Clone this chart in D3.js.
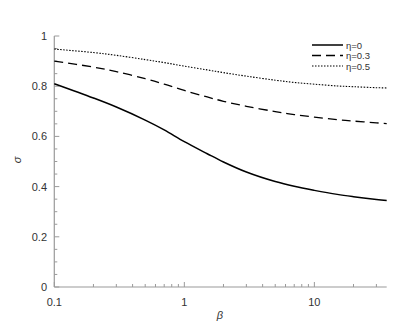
<!DOCTYPE html>
<html>
<head>
<meta charset="utf-8">
<script src="https://cdn.jsdelivr.net/npm/d3@7"></script>
<style>
  body { margin: 0; background: #fff; }
  svg { display: block; font-family: "Liberation Sans", Arial, sans-serif; }
</style>
</head>
<body>
<div id="chart"></div>
<script>
const betas = [0.1, 0.2, 0.3, 0.5, 0.7, 1, 1.5, 2, 3, 5, 7, 10, 15, 20, 30, 36];
// sigma for each eta
const eta0  = [0.81, 0.753, 0.717, 0.665, 0.626, 0.579, 0.531, 0.498, 0.458, 0.42, 0.401, 0.385, 0.369, 0.36, 0.349, 0.345];
const eta03 = [0.90, 0.876, 0.858, 0.830, 0.808, 0.783, 0.757, 0.740, 0.720, 0.699, 0.687, 0.677, 0.667, 0.661, 0.654, 0.651];
const eta05 = [0.948, 0.934, 0.923, 0.906, 0.894, 0.880, 0.865, 0.854, 0.840, 0.824, 0.815, 0.808, 0.801, 0.798, 0.794, 0.793];
const seriesNames = ["\u03b7=0", "\u03b7=0.3", "\u03b7=0.5"];
const xMajor = [0.1, 1, 10];
const yMajor = [0, 0.2, 0.4, 0.6, 0.8, 1];

const W = 415, H = 331;
const x = d3.scaleLog().domain([0.1, 36]).range([54.3, 386.7]);
const y = d3.scaleLinear().domain([0, 1]).range([287, 36]);

const svg = d3.select("#chart").append("svg")
    .attr("width", W).attr("height", H);

const axisColor = "#9a9a9a";

// minor x ticks
const xMinor = [];
[0.1, 1, 10].forEach(d => { for (let k = 2; k <= 9; k++) if (d * k <= 36) xMinor.push(d * k); });
// minor y ticks
const yMinor = d3.range(0, 1.0001, 0.05).filter(v => Math.abs(v * 5 - Math.round(v * 5)) > 1e-6);

const g = svg.append("g");

g.selectAll(".xminor").data(xMinor).enter().append("line")
    .attr("x1", d => x(d)).attr("x2", d => x(d))
    .attr("y1", y(0)).attr("y2", y(0) - 3)
    .attr("stroke", axisColor).attr("stroke-width", 1);
g.selectAll(".xmajor").data(xMajor).enter().append("line")
    .attr("x1", d => x(d)).attr("x2", d => x(d))
    .attr("y1", y(0)).attr("y2", y(0) - 5)
    .attr("stroke", axisColor).attr("stroke-width", 1);
g.selectAll(".yminor").data(yMinor).enter().append("line")
    .attr("x1", x(0.1)).attr("x2", x(0.1) + 3)
    .attr("y1", d => y(d)).attr("y2", d => y(d))
    .attr("stroke", axisColor).attr("stroke-width", 1);
g.selectAll(".ymajor").data(yMajor).enter().append("line")
    .attr("x1", x(0.1)).attr("x2", x(0.1) + 5)
    .attr("y1", d => y(d)).attr("y2", d => y(d))
    .attr("stroke", axisColor).attr("stroke-width", 1);

// axis lines
g.append("line").attr("x1", x(0.1)).attr("x2", x(0.1))
    .attr("y1", y(0)).attr("y2", y(1))
    .attr("stroke", axisColor).attr("stroke-width", 1.2);
g.append("line").attr("x1", x(0.1)).attr("x2", x(36))
    .attr("y1", y(0)).attr("y2", y(0))
    .attr("stroke", axisColor).attr("stroke-width", 1.2);

// tick labels
g.selectAll(".xlab").data(xMajor).enter().append("text")
    .attr("x", d => x(d)).attr("y", y(0) + 19)
    .attr("text-anchor", "middle")
    .attr("font-size", 11).attr("fill", "#333")
    .text(d => d);
g.selectAll(".ylab").data(yMajor).enter().append("text")
    .attr("x", 47).attr("y", d => y(d) + 4)
    .attr("text-anchor", "end")
    .attr("font-size", 11).attr("fill", "#333")
    .text(d => d);

// axis titles
svg.append("text").attr("x", 220).attr("y", 319)
    .attr("text-anchor", "middle").attr("font-size", 11)
    .attr("font-style", "italic").attr("fill", "#333").text("\u03b2");
svg.append("text").attr("transform", "translate(21,160) rotate(-90)")
    .attr("text-anchor", "middle").attr("font-size", 11)
    .attr("font-style", "italic").attr("fill", "#333").text("\u03c3");

// curves
const styles = [
    { dash: null, width: 1.5 },
    { dash: "9,5", width: 1.3 },
    { dash: "1.5,1.5", width: 1.1 }
];
const allSeries = [eta0, eta03, eta05];
const line = d3.line()
    .x((d, i) => x(betas[i]))
    .y(d => y(d))
    .curve(d3.curveCatmullRom.alpha(0.5));

allSeries.forEach((s, k) => {
    svg.append("path").datum(s)
        .attr("d", line)
        .attr("fill", "none")
        .attr("stroke", "#000")
        .attr("stroke-width", styles[k].width)
        .attr("stroke-dasharray", styles[k].dash);
});

// legend
const legend = svg.append("g");
seriesNames.forEach((name, k) => {
    const ly = 45 + k * 10.5;
    legend.append("line")
        .attr("x1", 312).attr("x2", 343)
        .attr("y1", ly).attr("y2", ly)
        .attr("stroke", "#000")
        .attr("stroke-width", styles[k].width)
        .attr("stroke-dasharray", styles[k].dash);
    legend.append("text")
        .attr("x", 346).attr("y", ly + 3.5)
        .attr("font-size", 9.5).attr("fill", "#333")
        .text(name);
});
</script>
</body>
</html>
